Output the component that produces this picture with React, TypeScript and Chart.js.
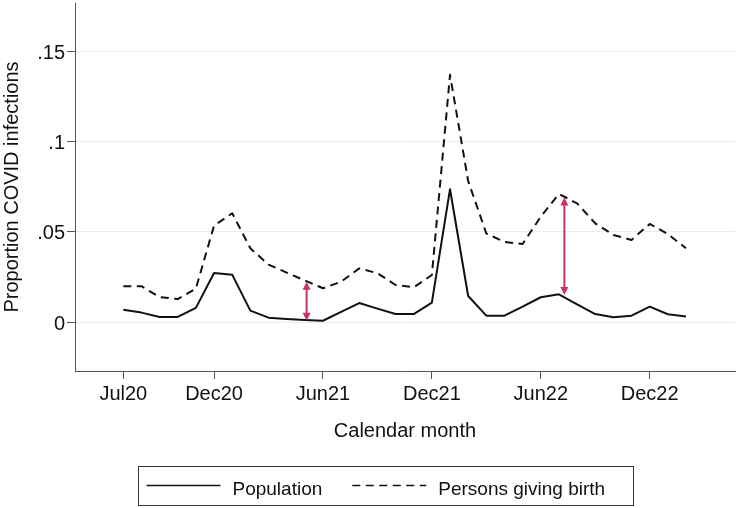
import React, { useEffect, useRef } from 'react';
import { Chart, registerables } from 'chart.js';

Chart.register(...registerables);

const FONT = "'Liberation Sans', Arial, Helvetica, sans-serif";

const months = [
  'Jul20', 'Aug20', 'Sep20', 'Oct20', 'Nov20', 'Dec20',
  'Jan21', 'Feb21', 'Mar21', 'Apr21', 'May21', 'Jun21',
  'Jul21', 'Aug21', 'Sep21', 'Oct21', 'Nov21', 'Dec21',
  'Jan22', 'Feb22', 'Mar22', 'Apr22', 'May22', 'Jun22',
  'Jul22', 'Aug22', 'Sep22', 'Oct22', 'Nov22', 'Dec22',
  'Jan23', 'Feb23',
];

const population = [
  0.0068, 0.0052, 0.0028, 0.0028, 0.0078, 0.0271,
  0.0262, 0.0063, 0.0024, 0.0017, 0.0011, 0.0007,
  0.0056, 0.0105, 0.0074, 0.0044, 0.0044, 0.0107,
  0.0735, 0.0144, 0.0035, 0.0035, 0.0085, 0.0137,
  0.0153, 0.0098, 0.0044, 0.0026, 0.0035, 0.0085,
  0.0043, 0.0030,
];

const birthing = [
  0.0198, 0.0198, 0.0138, 0.0127, 0.0185, 0.0533,
  0.0602, 0.0408, 0.0318, 0.0273, 0.0230, 0.0187,
  0.0223, 0.0297, 0.0270, 0.0205, 0.0192, 0.0260,
  0.1368, 0.0780, 0.0490, 0.0443, 0.0432, 0.0583,
  0.0709, 0.0657, 0.0546, 0.0482, 0.0454, 0.0543,
  0.0487, 0.0408,
];

const seriesNames = ['Population', 'Persons giving birth'];

const xTickLabels = ['Jul20', 'Dec20', 'Jun21', 'Dec21', 'Jun22', 'Dec22'];
const yTickValues = [0, 0.05, 0.1, 0.15];
const yTickLabels = ['0', '.05', '.1', '.15'];

// gap arrows: position in months since Jul20, low and high values
const arrowMonth = [10.1, 24.3];
const arrowLow = [0.0007, 0.015];
const arrowHigh = [0.0223, 0.0689];

const ARROW_COLOR = '#c5336b';
const LINE_COLOR = '#111111';
const AXIS_COLOR = '#555555';
const GRID_COLOR = '#e4eef1';

const arrowPlugin = {
  id: 'gapArrows',
  afterDatasetsDraw(chart: any) {
    const { ctx, scales } = chart;
    const xs = scales.x;
    const ys = scales.y;
    ctx.save();
    ctx.strokeStyle = ARROW_COLOR;
    ctx.fillStyle = ARROW_COLOR;
    ctx.lineWidth = 2;
    const head = 8;
    const hw = 4;
    arrowMonth.forEach((m, i) => {
      const px = xs.getPixelForValue(m);
      const top = ys.getPixelForValue(arrowHigh[i]);
      const bot = ys.getPixelForValue(arrowLow[i]);
      ctx.beginPath();
      ctx.moveTo(px, top + head - 1);
      ctx.lineTo(px, bot - head + 1);
      ctx.stroke();
      ctx.beginPath();
      ctx.moveTo(px, top);
      ctx.lineTo(px - hw, top + head);
      ctx.lineTo(px + hw, top + head);
      ctx.closePath();
      ctx.fill();
      ctx.beginPath();
      ctx.moveTo(px, bot);
      ctx.lineTo(px - hw, bot - head);
      ctx.lineTo(px + hw, bot - head);
      ctx.closePath();
      ctx.fill();
    });
    ctx.restore();
  },
};

const legendPlugin = {
  id: 'boxLegend',
  afterDraw(chart: any) {
    const { ctx } = chart;
    const box = { left: 138.5, top: 466.5, width: 495, height: 39 };
    const sampleLen = 74;
    const textGap = 12;
    const itemGap = 30;
    const lineY = 485.5;
    const baseY = 494.5;
    ctx.save();
    ctx.strokeStyle = '#333333';
    ctx.lineWidth = 1;
    ctx.strokeRect(box.left, box.top, box.width, box.height);
    ctx.font = `19px ${FONT}`;
    ctx.textBaseline = 'alphabetic';
    ctx.textAlign = 'left';
    let x = box.left + 8;
    chart.data.datasets.forEach((ds: any) => {
      ctx.beginPath();
      ctx.strokeStyle = LINE_COLOR;
      ctx.lineWidth = 1.5;
      ctx.setLineDash(ds.borderDash || []);
      ctx.moveTo(x, lineY);
      ctx.lineTo(x + sampleLen, lineY);
      ctx.stroke();
      ctx.setLineDash([]);
      const tx = x + sampleLen + textGap;
      ctx.fillStyle = '#111111';
      ctx.fillText(ds.label, tx, baseY);
      x = tx + ctx.measureText(ds.label).width + itemGap;
    });
    ctx.restore();
  },
};

export default function App() {
  const canvasRef = useRef<HTMLCanvasElement | null>(null);

  useEffect(() => {
    const canvas = canvasRef.current;
    if (!canvas) return;
    Chart.defaults.font.family = FONT;
    const chart = new Chart(canvas, {
      type: 'line',
      data: {
        datasets: [
          {
            label: seriesNames[0],
            data: population.map((v, i) => ({ x: i, y: v })),
            borderColor: LINE_COLOR,
            borderWidth: 2,
            borderJoinStyle: 'round',
            pointRadius: 0,
            tension: 0,
            fill: false,
            borderDash: [],
          },
          {
            label: seriesNames[1],
            data: birthing.map((v, i) => ({ x: i, y: v })),
            borderColor: LINE_COLOR,
            borderWidth: 2,
            borderJoinStyle: 'round',
            pointRadius: 0,
            tension: 0,
            fill: false,
            borderDash: [8, 5.5],
          },
        ],
      },
      options: {
        animation: false,
        responsive: false,
        events: [],
        layout: { padding: { top: 3, right: 3, left: 0, bottom: 0 } },
        plugins: {
          legend: { display: false },
          tooltip: { enabled: false },
        },
        scales: {
          x: {
            type: 'linear',
            min: -2.66,
            max: 33.7,
            afterBuildTicks: (s: any) => {
              s.ticks = xTickLabels.map((l) => ({ value: months.indexOf(l) }));
            },
            afterFit: (s: any) => {
              s.height = 137;
              s.paddingLeft = 0;
              s.paddingRight = 0;
              s.paddingTop = 0;
              s.paddingBottom = 0;
            },
            ticks: {
              callback: (v: any) => months[Math.round(Number(v))],
              font: { family: FONT, size: 20 },
              color: '#111111',
              padding: 3,
              maxRotation: 0,
              autoSkip: false,
            },
            grid: {
              drawOnChartArea: false,
              tickLength: 8,
              tickColor: AXIS_COLOR,
              color: AXIS_COLOR,
              lineWidth: 1,
            },
            border: { display: true, color: AXIS_COLOR, width: 1 },
            title: {
              display: true,
              text: 'Calendar month',
              font: { family: FONT, size: 20 },
              color: '#111111',
              padding: { top: 0, bottom: 65 },
            },
          },
          y: {
            type: 'linear',
            min: -0.02712,
            max: 0.17657,
            afterBuildTicks: (s: any) => {
              s.ticks = yTickValues.map((v) => ({ value: v }));
            },
            afterFit: (s: any) => {
              s.width = 75;
              s.paddingTop = 0;
              s.paddingBottom = 0;
              s.paddingLeft = 0;
              s.paddingRight = 0;
            },
            ticks: {
              callback: (_v: any, i: number) => yTickLabels[i],
              font: { family: FONT, size: 20 },
              color: '#111111',
              padding: 2,
              labelOffset: 2,
              autoSkip: false,
            },
            grid: {
              color: GRID_COLOR,
              tickColor: AXIS_COLOR,
              tickLength: 8,
              lineWidth: 1,
            },
            border: { display: true, color: AXIS_COLOR, width: 1 },
            title: {
              display: true,
              text: 'Proportion COVID infections',
              font: { family: FONT, size: 20 },
              color: '#111111',
              padding: { top: 0, bottom: 0 },
            },
          },
        },
      } as any,
      plugins: [arrowPlugin, legendPlugin],
    });
    return () => chart.destroy();
  }, []);

  return (
    <div style={{ position: 'fixed', left: 0, top: 0, width: 738, height: 508, background: '#ffffff' }}>
      <canvas ref={canvasRef} width={738} height={508} style={{ display: 'block' }} />
    </div>
  );
}
